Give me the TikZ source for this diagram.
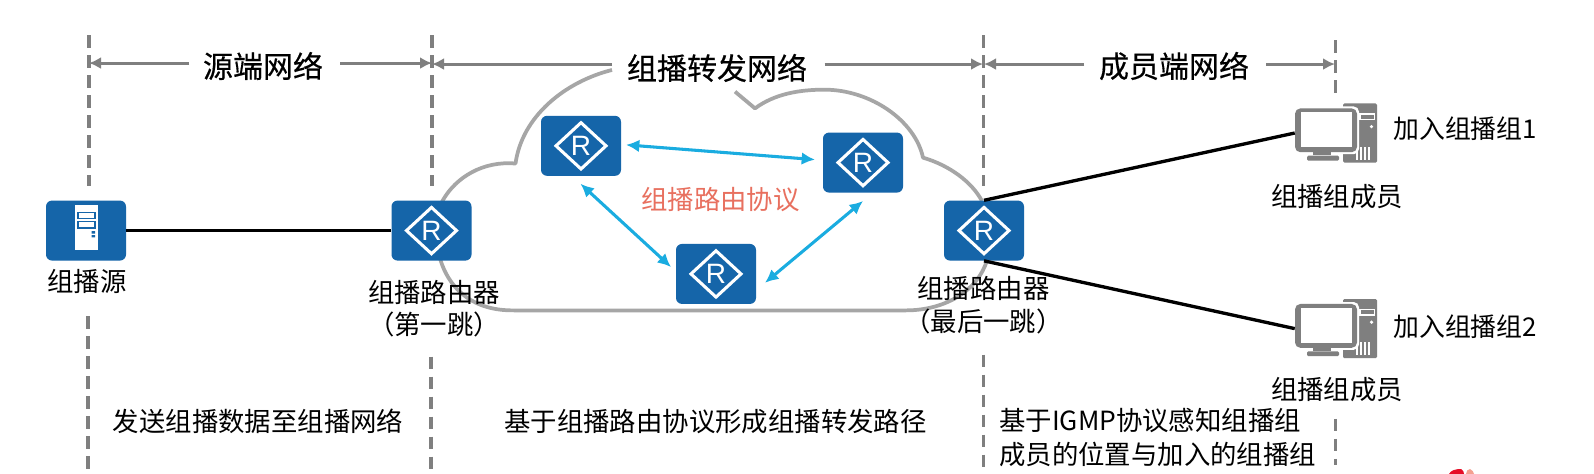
\documentclass[tikz,border=0pt]{standalone}
\usepackage{fontspec}
\usetikzlibrary{arrows.meta}
\setmainfont{Noto Sans CJK SC}
\newfontfamily\titlefont[FakeBold=0.4]{Noto Sans CJK SC}
\newfontfamily\rfont{Liberation Sans}
\definecolor{hwblue}{HTML}{1565A9}
\definecolor{linkblue}{HTML}{1AACE0}
\definecolor{guide}{HTML}{7F7F7F}
\definecolor{cloudgray}{HTML}{A6A6A6}
\definecolor{proto}{HTML}{E8705F}
\definecolor{logored}{HTML}{E60F28}
\definecolor{logopink}{HTML}{F4A090}
\tikzset{
  x=0.75pt,y=-0.739pt,
  guideline/.style={guide,line width=2.5pt,dash pattern=on 9.5pt off 5.5pt},
  spanline/.style={guide,line width=2.3pt,-{Latex[length=9pt,width=9pt]}},
  cloudline/.style={cloudgray,line width=2.8pt,line join=round},
  link/.style={black,line width=2.5pt},
  proto link/.style={linkblue,line width=2.3pt,{Latex[length=10pt,width=9.5pt]}-{Latex[length=10pt,width=9.5pt]}},
  lab/.style={font=\fontsize{19.8pt}{24pt}\selectfont,inner sep=0pt,align=center},
  head/.style={font=\titlefont\fontsize{22.5pt}{26pt}\selectfont,inner sep=0pt},
  boxnode/.style={fill=hwblue,rounded corners=4.5pt,minimum width=60pt,minimum height=45pt,inner sep=0pt,draw=none},
  pcnode/.style={minimum width=61.5pt,minimum height=45pt,inner sep=0pt,draw=none},
  router/.pic={
    \draw[white,line width=2.3pt,line join=miter] (-25,0)--(0,-23.5)--(25,0)--(0,23.5)--cycle;
    \node[white,inner sep=0pt,font=\rfont\fontsize{21pt}{22pt}\selectfont] (-R) at (0,0) {R};
  },
  pcicon/.pic={
    \fill[guide,rounded corners=1pt] (7,-30) rectangle (41,30);
    \fill[white] (23,-20) rectangle (39,-13);
    \fill[guide] (24.5,-18.5) rectangle (37.5,-14.5);
    \fill[white] (35.5,-6.5) circle (1.8);
    \foreach \v in {20,24,28,32}{\fill[white] (\v,14) rectangle (\v+1.6,27);}
    \fill[white,rounded corners=4pt] (-43,-27) rectangle (23,21.5);
    \fill[guide,rounded corners=4pt] (-41,-25) rectangle (21,19.5);
    \fill[white] (-35,-21) rectangle (15.5,14.5);
    \fill[guide] (-23,19) rectangle (-5,22.5);
    \fill[guide,rounded corners=1pt] (-29,23) rectangle (3,28);
  }
}
\begin{document}
\begin{tikzpicture}
\useasboundingbox (0,0) rectangle (1594,481);
\fill[white] (0,0) rectangle (1594,481);

% vertical guides
\coordinate (g1a) at (89,36);   \coordinate (g1b) at (89,189);
\coordinate (g1c) at (88,321);  \coordinate (g1d) at (88,481);
\coordinate (g2a) at (432,36);  \coordinate (g2b) at (432,189);
\coordinate (g2c) at (431,362); \coordinate (g2d) at (431,481);
\coordinate (g3a) at (983.5,36);\coordinate (g3b) at (983.5,189);
\coordinate (g3c) at (983.5,360);\coordinate (g3d) at (983.5,481);
\coordinate (g4a) at (1335.5,41);\coordinate (g4b) at (1335.5,95);
\coordinate (g4c) at (1335.5,425);\coordinate (g4d) at (1335.5,472);
\foreach \a/\b in {g1a/g1b,g1c/g1d,g2a/g2b,g2c/g2d,g3a/g3b,g3c/g3d,g4a/g4b,g4c/g4d}
  \draw[guideline] (\a) -- (\b);

% cloud
\coordinate (cA) at (612,71);
\coordinate (cB) at (515.5,166);
\coordinate (cC) at (443,203);
\draw[cloudline] (cA) .. controls (565,83) and (522,118) .. (cB)
  .. controls (483,163) and (456,180) .. (cC)
  .. controls (428,228) and (432,316) .. (514,315)
  -- (906,315) .. controls (945,315) and (978,295) .. (987,264);
\draw[cloudline] (735,93) -- (755,110) .. controls (775,95) and (800,91) .. (824.5,91)
  .. controls (870,91) and (915,122) .. (923,160)
  .. controls (950,168) and (972,185) .. (982,204);

% nodes
\node[boxnode] (src) at (86,234) {};
\node[boxnode] (r1) at (431.5,234) {};
\node[boxnode] (rA) at (581,148) {};
\node[boxnode] (rB) at (863,165) {};
\node[boxnode] (rC) at (716,278) {};
\node[boxnode] (rL) at (984,234) {};
\foreach \n in {r1,rA,rB,rC,rL} \pic at (\n) {router};

% server glyph
\fill[white] (75,208) rectangle (97.5,254);
\draw[hwblue,line width=1.1pt] (78,215.5) rectangle (95,222) (78,225) rectangle (95,231.5);
\fill[hwblue] (91.5,234.5) rectangle (95,237) (91.5,238.5) rectangle (95,241);

% pcs
\node[pcnode] (pc1) at (1336,135) {};
\node[pcnode] (pc2) at (1336,333.5) {};
\pic at (pc1) {pcicon};
\pic at (pc2) {pcicon};

% links
\draw[link] (src.east) -- (r1.west);
\draw[link] (rL.north) -- (pc1.west);
\draw[link] (rL.south) -- (pc2.west);

% protocol links
\coordinate (ab1) at (626,147);  \coordinate (ab2) at (815,162);
\coordinate (ac1) at (580.5,186.5); \coordinate (ac2) at (671,271);
\coordinate (bc1) at (863,204);  \coordinate (bc2) at (765,287);
\draw[proto link] (ab1) -- (ab2);
\draw[proto link] (ac1) -- (ac2);
\draw[proto link] (bc1) -- (bc2);

% headings
\node[head] (h1) at (263,67) {源端网络};
\node[head] (h2) at (717,69) {组播转发网络};
\node[head] (h3) at (1174,67) {成员端网络};

% spans
\coordinate (s1a) at (89,64); \coordinate (s1b) at (432,64);
\coordinate (s2a) at (432,65); \coordinate (s2b) at (983,65);
\coordinate (s3a) at (984,65); \coordinate (s3b) at (1335,65);
\coordinate (s1c) at (189,64); \coordinate (s1d) at (340,64);
\coordinate (s2c) at (612,65); \coordinate (s2d) at (824.5,65);
\coordinate (s3c) at (1084,65); \coordinate (s3d) at (1266,65);
\draw[spanline] (s1c) -- (s1a);
\draw[spanline] (s1d) -- (s1b);
\draw[spanline] (s2c) -- (s2a);
\draw[spanline] (s2d) -- (s2b);
\draw[spanline] (s3c) -- (s3a);
\draw[spanline] (s3d) -- (s3b);

% labels
\node[lab] (l1) at (87,285.5) {组播源};
\node[lab] (l2) at (434,297) {组播路由器};
\node[lab] (l3) at (434,329.5) {（第一跳）};
\node[lab] (l4) at (983.5,293) {组播路由器};
\node[lab] (l5) at (983.5,326) {（最后一跳）};
\node[lab,text=proto] (l6) at (720.5,203) {组播路由协议};
\node[lab] (l7) at (258,427.5) {发送组播数据至组播网络};
\node[lab] (l8) at (715.5,427.5) {基于组播路由协议形成组播转发路径};
\node[lab,anchor=west] (l9) at (999,427) {基于IGMP协议感知组播组};
\node[lab,anchor=west] (l10) at (999,461.5) {成员的位置与加入的组播组};
\node[lab,anchor=west,font=\fontsize{19.4pt}{24pt}\selectfont] (l11) at (1393,131) {加入组播组1};
\node[lab,anchor=west,font=\fontsize{19.4pt}{24pt}\selectfont] (l12) at (1393,332) {加入组播组2};
\node[lab] (l13) at (1337,199) {组播组成员};
\node[lab] (l14) at (1337,395) {组播组成员};

% cut-off logo at the lower edge
\fill[logored] (1449,481) .. controls (1451,477) and (1456,476) .. (1461,476) .. controls (1463,477) and (1464,479) .. (1464,481) -- cycle;
\fill[logopink] (1466,481) .. controls (1466,478) and (1468,476) .. (1470,476) .. controls (1472,477) and (1474,479) .. (1474,481) -- cycle;
\end{tikzpicture}
\end{document}
